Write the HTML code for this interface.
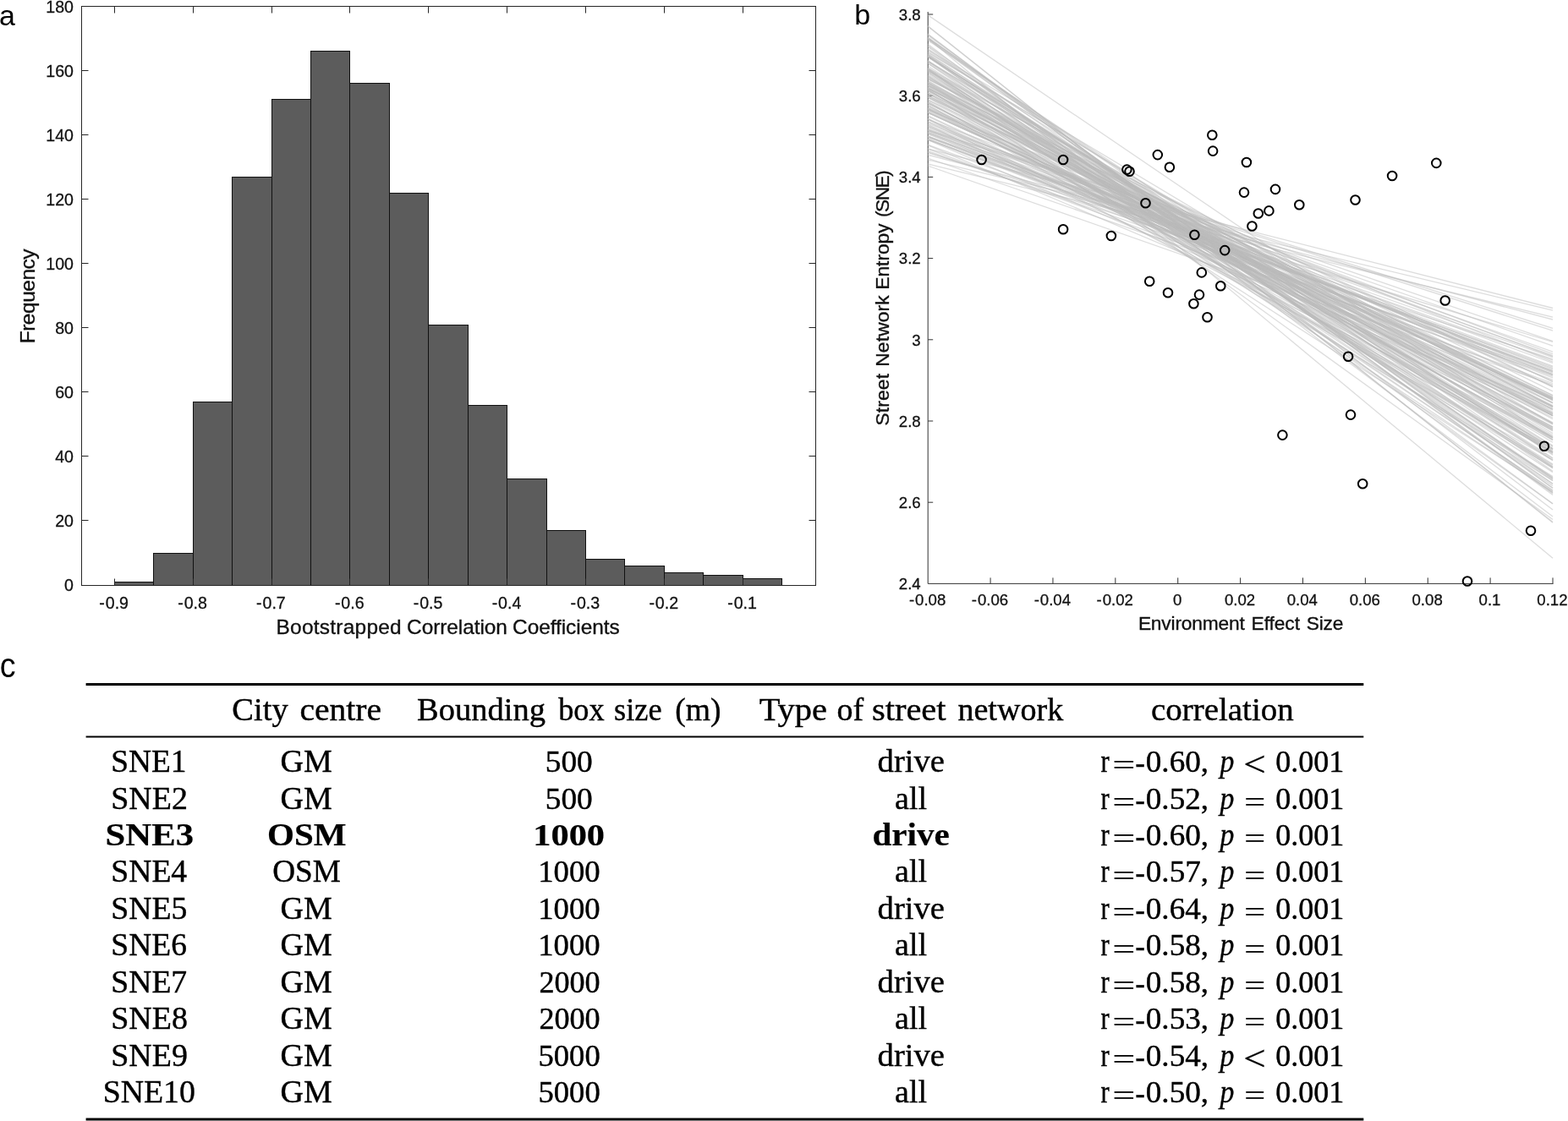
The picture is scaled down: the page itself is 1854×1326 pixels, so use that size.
<!DOCTYPE html>
<html lang="en"><head><meta charset="utf-8"><title>Figure: bootstrapped correlations between environment effect size and street network entropy</title>
<style>
html,body{margin:0;padding:0;background:#fff;}
#fig{position:relative;width:1854px;height:1326px;overflow:hidden;background:#fff;}
svg{display:block;position:absolute;left:0;top:0;}
text{font-family:"Liberation Sans", Arial, Helvetica, sans-serif;fill:#111;}
.tk{font-size:19.6px;}.tk text{stroke:#111;stroke-width:0.3px;}
.lb{font-size:24.45px;stroke:#111;stroke-width:0.35px;}
.pl{font-size:34px;fill:#000;}
.tb text{font-family:"Liberation Serif", "Times New Roman", serif;font-size:37.0px;fill:#000;stroke:#000;stroke-width:0.4px;}.tb .b{font-weight:bold;stroke-width:0.2px;}.tb .i{font-style:italic;}.tb .d{font-size:36px;}.tb .o{stroke-width:0.25px;}
</style></head><body>
<div id="fig"><svg width="1854" height="1326" viewBox="0 0 1854 1326">
<rect width="1854" height="1326" fill="#fff"/>
<g id="panel-a">
<text class="pl" x="-1.0" y="29.8">a</text>
<g fill="#5c5c5c" stroke="#111" stroke-width="1">
<rect x="135.5" y="688.5" width="46.0" height="4.0"/>
<rect x="181.5" y="654.5" width="47.0" height="38.0"/>
<rect x="228.5" y="475.5" width="46.0" height="217.0"/>
<rect x="274.5" y="209.5" width="47.0" height="483.0"/>
<rect x="321.5" y="117.5" width="46.0" height="575.0"/>
<rect x="367.5" y="60.5" width="46.0" height="632.0"/>
<rect x="413.5" y="98.5" width="47.0" height="594.0"/>
<rect x="460.5" y="228.5" width="46.0" height="464.0"/>
<rect x="506.5" y="384.5" width="47.0" height="308.0"/>
<rect x="553.5" y="479.5" width="46.0" height="213.0"/>
<rect x="599.5" y="566.5" width="47.0" height="126.0"/>
<rect x="646.5" y="627.5" width="46.0" height="65.0"/>
<rect x="692.5" y="661.5" width="46.0" height="31.0"/>
<rect x="738.5" y="669.5" width="47.0" height="23.0"/>
<rect x="785.5" y="677.5" width="46.0" height="15.0"/>
<rect x="831.5" y="680.5" width="47.0" height="12.0"/>
<rect x="878.5" y="684.5" width="46.0" height="8.0"/>
</g>
<g stroke="#262626" stroke-width="1" fill="none">
<rect x="96.5" y="7.5" width="868.00" height="685.00"/>
<path d="M135.5 692.5v-8.0M135.5 7.5v8.0M228.5 692.5v-8.0M228.5 7.5v8.0M321.5 692.5v-8.0M321.5 7.5v8.0M413.5 692.5v-8.0M413.5 7.5v8.0M506.5 692.5v-8.0M506.5 7.5v8.0M599.5 692.5v-8.0M599.5 7.5v8.0M692.5 692.5v-8.0M692.5 7.5v8.0M785.5 692.5v-8.0M785.5 7.5v8.0M878.5 692.5v-8.0M878.5 7.5v8.0M96.5 615.5h8.0M964.5 615.5h-8.0M96.5 539.5h8.0M964.5 539.5h-8.0M96.5 463.5h8.0M964.5 463.5h-8.0M96.5 387.5h8.0M964.5 387.5h-8.0M96.5 311.5h8.0M964.5 311.5h-8.0M96.5 235.5h8.0M964.5 235.5h-8.0M96.5 159.5h8.0M964.5 159.5h-8.0M96.5 83.5h8.0M964.5 83.5h-8.0"/>
</g>
<g class="tk" text-anchor="middle">
<text x="134.70" y="719.8">-<tspan dx="0.9">0.9</tspan></text>
<text x="227.56" y="719.8">-<tspan dx="0.9">0.8</tspan></text>
<text x="320.42" y="719.8">-<tspan dx="0.9">0.7</tspan></text>
<text x="413.28" y="719.8">-<tspan dx="0.9">0.6</tspan></text>
<text x="506.14" y="719.8">-<tspan dx="0.9">0.5</tspan></text>
<text x="599.00" y="719.8">-<tspan dx="0.9">0.4</tspan></text>
<text x="691.86" y="719.8">-<tspan dx="0.9">0.3</tspan></text>
<text x="784.72" y="719.8">-<tspan dx="0.9">0.2</tspan></text>
<text x="877.58" y="719.8">-<tspan dx="0.9">0.1</tspan></text>
</g>
<g class="tk" text-anchor="end">
<text x="87.0" y="699.10">0</text>
<text x="87.0" y="623.10">20</text>
<text x="87.0" y="547.10">40</text>
<text x="87.0" y="471.10">60</text>
<text x="87.0" y="395.10">80</text>
<text x="87.0" y="319.10">100</text>
<text x="87.0" y="243.10">120</text>
<text x="87.0" y="167.10">140</text>
<text x="87.0" y="91.10">160</text>
<text x="87.0" y="15.10">180</text>
</g>
<text class="lb" style="font-size:24.45px" y="749.6"><tspan x="326.50" letter-spacing="0.255">Bootstrapped</tspan> <tspan x="481.10" letter-spacing="-0.070">Correlation</tspan> <tspan x="606.10" letter-spacing="-0.064">Coefficients</tspan></text>
<text class="lb" style="font-size:24.45px" transform="translate(41.4 1000.0) rotate(-90)"><tspan x="593.70" letter-spacing="-0.450">Frequency</tspan></text>
</g>
<g id="panel-b">
<text class="pl" x="1010.3" y="28.5">b</text>
<g stroke="#333" stroke-width="1" fill="none">
<path d="M1097.2 14.0V690.4H1836.5M1171.08 690.4v-7.0M1244.96 690.4v-7.0M1318.84 690.4v-7.0M1392.72 690.4v-7.0M1466.60 690.4v-7.0M1540.48 690.4v-7.0M1614.36 690.4v-7.0M1688.24 690.4v-7.0M1762.12 690.4v-7.0M1836.00 690.4v-7.0M1097.2 594.20h6.0M1097.2 498.00h6.0M1097.2 401.80h6.0M1097.2 305.60h6.0M1097.2 209.40h6.0M1097.2 113.20h6.0M1097.2 17.00h6.0"/>
</g>
<g stroke="#bcbcbc" stroke-width="1.3" stroke-opacity="0.5" fill="none">
<line x1="1096.8" y1="90.2" x2="1836.0" y2="520.6"/>
<line x1="1096.8" y1="97.2" x2="1836.0" y2="535.1"/>
<line x1="1096.8" y1="129.6" x2="1836.0" y2="494.0"/>
<line x1="1096.8" y1="44.8" x2="1836.0" y2="552.3"/>
<line x1="1096.8" y1="85.5" x2="1836.0" y2="551.8"/>
<line x1="1096.8" y1="82.2" x2="1836.0" y2="516.5"/>
<line x1="1096.8" y1="67.1" x2="1836.0" y2="566.3"/>
<line x1="1096.8" y1="95.8" x2="1836.0" y2="527.5"/>
<line x1="1096.8" y1="71.8" x2="1836.0" y2="517.6"/>
<line x1="1096.8" y1="140.7" x2="1836.0" y2="530.9"/>
<line x1="1096.8" y1="104.2" x2="1836.0" y2="517.7"/>
<line x1="1096.8" y1="153.6" x2="1836.0" y2="388.4"/>
<line x1="1096.8" y1="87.2" x2="1836.0" y2="530.6"/>
<line x1="1096.8" y1="175.9" x2="1836.0" y2="453.5"/>
<line x1="1096.8" y1="171.6" x2="1836.0" y2="485.1"/>
<line x1="1096.8" y1="100.3" x2="1836.0" y2="451.7"/>
<line x1="1096.8" y1="66.6" x2="1836.0" y2="530.9"/>
<line x1="1096.8" y1="71.5" x2="1836.0" y2="574.6"/>
<line x1="1096.8" y1="79.8" x2="1836.0" y2="542.5"/>
<line x1="1096.8" y1="57.5" x2="1836.0" y2="572.4"/>
<line x1="1096.8" y1="95.3" x2="1836.0" y2="508.6"/>
<line x1="1096.8" y1="97.2" x2="1836.0" y2="480.7"/>
<line x1="1096.8" y1="156.3" x2="1836.0" y2="439.6"/>
<line x1="1096.8" y1="127.0" x2="1836.0" y2="451.0"/>
<line x1="1096.8" y1="104.4" x2="1836.0" y2="467.5"/>
<line x1="1096.8" y1="150.3" x2="1836.0" y2="409.2"/>
<line x1="1096.8" y1="164.9" x2="1836.0" y2="443.1"/>
<line x1="1096.8" y1="114.9" x2="1836.0" y2="476.1"/>
<line x1="1096.8" y1="66.9" x2="1836.0" y2="568.4"/>
<line x1="1096.8" y1="127.8" x2="1836.0" y2="479.7"/>
<line x1="1096.8" y1="165.1" x2="1836.0" y2="449.4"/>
<line x1="1096.8" y1="133.2" x2="1836.0" y2="471.6"/>
<line x1="1096.8" y1="154.4" x2="1836.0" y2="441.2"/>
<line x1="1096.8" y1="128.9" x2="1836.0" y2="471.2"/>
<line x1="1096.8" y1="113.0" x2="1836.0" y2="473.5"/>
<line x1="1096.8" y1="146.1" x2="1836.0" y2="421.7"/>
<line x1="1096.8" y1="106.9" x2="1836.0" y2="491.7"/>
<line x1="1096.8" y1="124.7" x2="1836.0" y2="491.3"/>
<line x1="1096.8" y1="157.2" x2="1836.0" y2="429.5"/>
<line x1="1096.8" y1="41.5" x2="1836.0" y2="584.1"/>
<line x1="1096.8" y1="121.8" x2="1836.0" y2="483.8"/>
<line x1="1096.8" y1="119.7" x2="1836.0" y2="531.6"/>
<line x1="1096.8" y1="109.3" x2="1836.0" y2="502.1"/>
<line x1="1096.8" y1="81.6" x2="1836.0" y2="614.5"/>
<line x1="1096.8" y1="103.4" x2="1836.0" y2="518.5"/>
<line x1="1096.8" y1="40.6" x2="1836.0" y2="585.4"/>
<line x1="1096.8" y1="107.6" x2="1836.0" y2="487.4"/>
<line x1="1096.8" y1="113.1" x2="1836.0" y2="516.5"/>
<line x1="1096.8" y1="65.2" x2="1836.0" y2="564.7"/>
<line x1="1096.8" y1="91.3" x2="1836.0" y2="533.5"/>
<line x1="1096.8" y1="83.7" x2="1836.0" y2="523.3"/>
<line x1="1096.8" y1="129.8" x2="1836.0" y2="428.2"/>
<line x1="1096.8" y1="74.8" x2="1836.0" y2="544.6"/>
<line x1="1096.8" y1="91.3" x2="1836.0" y2="482.0"/>
<line x1="1096.8" y1="101.2" x2="1836.0" y2="505.1"/>
<line x1="1096.8" y1="187.0" x2="1836.0" y2="444.0"/>
<line x1="1096.8" y1="154.5" x2="1836.0" y2="420.7"/>
<line x1="1096.8" y1="66.4" x2="1836.0" y2="536.0"/>
<line x1="1096.8" y1="61.3" x2="1836.0" y2="512.6"/>
<line x1="1096.8" y1="120.2" x2="1836.0" y2="535.2"/>
<line x1="1096.8" y1="46.4" x2="1836.0" y2="577.4"/>
<line x1="1096.8" y1="105.7" x2="1836.0" y2="550.1"/>
<line x1="1096.8" y1="104.8" x2="1836.0" y2="473.6"/>
<line x1="1096.8" y1="100.5" x2="1836.0" y2="491.7"/>
<line x1="1096.8" y1="171.1" x2="1836.0" y2="442.9"/>
<line x1="1096.8" y1="193.9" x2="1836.0" y2="375.2"/>
<line x1="1096.8" y1="80.6" x2="1836.0" y2="491.5"/>
<line x1="1096.8" y1="105.9" x2="1836.0" y2="553.1"/>
<line x1="1096.8" y1="180.5" x2="1836.0" y2="404.5"/>
<line x1="1096.8" y1="110.2" x2="1836.0" y2="467.9"/>
<line x1="1096.8" y1="83.2" x2="1836.0" y2="476.9"/>
<line x1="1096.8" y1="72.2" x2="1836.0" y2="532.0"/>
<line x1="1096.8" y1="131.2" x2="1836.0" y2="481.2"/>
<line x1="1096.8" y1="114.8" x2="1836.0" y2="469.9"/>
<line x1="1096.8" y1="53.9" x2="1836.0" y2="566.9"/>
<line x1="1096.8" y1="65.0" x2="1836.0" y2="565.6"/>
<line x1="1096.8" y1="136.7" x2="1836.0" y2="483.6"/>
<line x1="1096.8" y1="118.2" x2="1836.0" y2="506.8"/>
<line x1="1096.8" y1="128.3" x2="1836.0" y2="505.7"/>
<line x1="1096.8" y1="66.8" x2="1836.0" y2="527.2"/>
<line x1="1096.8" y1="141.5" x2="1836.0" y2="418.7"/>
<line x1="1096.8" y1="161.1" x2="1836.0" y2="456.4"/>
<line x1="1096.8" y1="123.9" x2="1836.0" y2="544.3"/>
<line x1="1096.8" y1="81.0" x2="1836.0" y2="572.3"/>
<line x1="1096.8" y1="110.0" x2="1836.0" y2="563.6"/>
<line x1="1096.8" y1="63.9" x2="1836.0" y2="544.2"/>
<line x1="1096.8" y1="132.8" x2="1836.0" y2="472.1"/>
<line x1="1096.8" y1="72.5" x2="1836.0" y2="514.7"/>
<line x1="1096.8" y1="149.4" x2="1836.0" y2="472.3"/>
<line x1="1096.8" y1="128.2" x2="1836.0" y2="476.8"/>
<line x1="1096.8" y1="104.0" x2="1836.0" y2="457.8"/>
<line x1="1096.8" y1="107.3" x2="1836.0" y2="499.7"/>
<line x1="1096.8" y1="55.0" x2="1836.0" y2="595.7"/>
<line x1="1096.8" y1="164.2" x2="1836.0" y2="445.2"/>
<line x1="1096.8" y1="158.5" x2="1836.0" y2="438.6"/>
<line x1="1096.8" y1="179.8" x2="1836.0" y2="424.8"/>
<line x1="1096.8" y1="152.9" x2="1836.0" y2="440.0"/>
<line x1="1096.8" y1="188.9" x2="1836.0" y2="367.1"/>
<line x1="1096.8" y1="152.2" x2="1836.0" y2="416.1"/>
<line x1="1096.8" y1="74.7" x2="1836.0" y2="580.5"/>
<line x1="1096.8" y1="98.8" x2="1836.0" y2="520.4"/>
<line x1="1096.8" y1="140.1" x2="1836.0" y2="484.2"/>
<line x1="1096.8" y1="160.9" x2="1836.0" y2="433.0"/>
<line x1="1096.8" y1="101.6" x2="1836.0" y2="500.9"/>
<line x1="1096.8" y1="88.9" x2="1836.0" y2="509.9"/>
<line x1="1096.8" y1="44.9" x2="1836.0" y2="557.4"/>
<line x1="1096.8" y1="89.3" x2="1836.0" y2="582.6"/>
<line x1="1096.8" y1="98.1" x2="1836.0" y2="472.8"/>
<line x1="1096.8" y1="85.5" x2="1836.0" y2="549.1"/>
<line x1="1096.8" y1="122.1" x2="1836.0" y2="490.0"/>
<line x1="1096.8" y1="125.7" x2="1836.0" y2="509.1"/>
<line x1="1096.8" y1="92.9" x2="1836.0" y2="480.6"/>
<line x1="1096.8" y1="101.5" x2="1836.0" y2="462.9"/>
<line x1="1096.8" y1="45.1" x2="1836.0" y2="582.7"/>
<line x1="1096.8" y1="144.2" x2="1836.0" y2="491.9"/>
<line x1="1096.8" y1="147.1" x2="1836.0" y2="517.4"/>
<line x1="1096.8" y1="99.7" x2="1836.0" y2="535.7"/>
<line x1="1096.8" y1="105.0" x2="1836.0" y2="581.6"/>
<line x1="1096.8" y1="164.7" x2="1836.0" y2="434.1"/>
<line x1="1096.8" y1="97.9" x2="1836.0" y2="568.6"/>
<line x1="1096.8" y1="162.4" x2="1836.0" y2="426.2"/>
<line x1="1096.8" y1="137.5" x2="1836.0" y2="489.3"/>
<line x1="1096.8" y1="77.8" x2="1836.0" y2="558.6"/>
<line x1="1096.8" y1="156.1" x2="1836.0" y2="436.9"/>
<line x1="1096.8" y1="117.8" x2="1836.0" y2="470.5"/>
<line x1="1096.8" y1="73.2" x2="1836.0" y2="553.2"/>
<line x1="1096.8" y1="157.9" x2="1836.0" y2="446.9"/>
<line x1="1096.8" y1="162.1" x2="1836.0" y2="435.6"/>
<line x1="1096.8" y1="59.5" x2="1836.0" y2="534.9"/>
<line x1="1096.8" y1="165.5" x2="1836.0" y2="481.2"/>
<line x1="1096.8" y1="43.9" x2="1836.0" y2="577.2"/>
<line x1="1096.8" y1="84.3" x2="1836.0" y2="534.1"/>
<line x1="1096.8" y1="112.7" x2="1836.0" y2="488.7"/>
<line x1="1096.8" y1="30.4" x2="1836.0" y2="618.2"/>
<line x1="1096.8" y1="93.7" x2="1836.0" y2="457.5"/>
<line x1="1096.8" y1="161.2" x2="1836.0" y2="422.7"/>
<line x1="1096.8" y1="93.0" x2="1836.0" y2="489.2"/>
<line x1="1096.8" y1="132.3" x2="1836.0" y2="471.2"/>
<line x1="1096.8" y1="103.1" x2="1836.0" y2="495.6"/>
<line x1="1096.8" y1="63.8" x2="1836.0" y2="537.3"/>
<line x1="1096.8" y1="148.6" x2="1836.0" y2="403.7"/>
<line x1="1096.8" y1="47.5" x2="1836.0" y2="538.3"/>
<line x1="1096.8" y1="110.4" x2="1836.0" y2="500.6"/>
<line x1="1096.8" y1="143.7" x2="1836.0" y2="443.0"/>
<line x1="1096.8" y1="121.7" x2="1836.0" y2="504.8"/>
<line x1="1096.8" y1="62.1" x2="1836.0" y2="508.0"/>
<line x1="1096.8" y1="58.5" x2="1836.0" y2="501.4"/>
<line x1="1096.8" y1="82.9" x2="1836.0" y2="553.9"/>
<line x1="1096.8" y1="140.5" x2="1836.0" y2="507.1"/>
<line x1="1096.8" y1="66.5" x2="1836.0" y2="541.8"/>
<line x1="1096.8" y1="133.2" x2="1836.0" y2="469.3"/>
<line x1="1096.8" y1="81.1" x2="1836.0" y2="579.7"/>
<line x1="1096.8" y1="115.2" x2="1836.0" y2="528.7"/>
<line x1="1096.8" y1="178.4" x2="1836.0" y2="438.5"/>
<line x1="1096.8" y1="154.5" x2="1836.0" y2="391.2"/>
<line x1="1096.8" y1="45.0" x2="1836.0" y2="660.3"/>
<line x1="1096.8" y1="17.6" x2="1836.0" y2="520.0"/>
<line x1="1096.8" y1="196.0" x2="1836.0" y2="455.0"/>
<line x1="1096.8" y1="31.0" x2="1836.0" y2="617.5"/>
<line x1="1096.8" y1="52.0" x2="1836.0" y2="611.0"/>
<line x1="1096.8" y1="40.0" x2="1836.0" y2="603.0"/>
<line x1="1096.8" y1="66.0" x2="1836.0" y2="596.0"/>
<line x1="1096.8" y1="176.0" x2="1836.0" y2="364.5"/>
<line x1="1096.8" y1="183.0" x2="1836.0" y2="378.0"/>
</g>
<g stroke="#000" stroke-width="2" fill="none">
<circle cx="1160.6" cy="189.0" r="5.3"/>
<circle cx="1257.1" cy="189.0" r="5.3"/>
<circle cx="1332.4" cy="200.6" r="5.3"/>
<circle cx="1335.5" cy="202.7" r="5.3"/>
<circle cx="1368.8" cy="183.1" r="5.3"/>
<circle cx="1382.9" cy="197.8" r="5.3"/>
<circle cx="1354.5" cy="240.2" r="5.3"/>
<circle cx="1257.1" cy="271.2" r="5.3"/>
<circle cx="1313.9" cy="279.0" r="5.3"/>
<circle cx="1359.2" cy="332.7" r="5.3"/>
<circle cx="1381.0" cy="346.3" r="5.3"/>
<circle cx="1433.3" cy="159.8" r="5.3"/>
<circle cx="1434.1" cy="178.6" r="5.3"/>
<circle cx="1473.9" cy="192.0" r="5.3"/>
<circle cx="1646.1" cy="208.0" r="5.3"/>
<circle cx="1471.0" cy="227.6" r="5.3"/>
<circle cx="1508.0" cy="223.9" r="5.3"/>
<circle cx="1602.5" cy="236.5" r="5.3"/>
<circle cx="1536.3" cy="242.2" r="5.3"/>
<circle cx="1500.4" cy="249.4" r="5.3"/>
<circle cx="1487.8" cy="252.5" r="5.3"/>
<circle cx="1480.4" cy="267.5" r="5.3"/>
<circle cx="1412.4" cy="277.8" r="5.3"/>
<circle cx="1448.2" cy="296.1" r="5.3"/>
<circle cx="1420.8" cy="322.4" r="5.3"/>
<circle cx="1443.3" cy="338.2" r="5.3"/>
<circle cx="1418.0" cy="348.6" r="5.3"/>
<circle cx="1411.4" cy="359.2" r="5.3"/>
<circle cx="1427.5" cy="375.3" r="5.3"/>
<circle cx="1698.3" cy="192.9" r="5.3"/>
<circle cx="1708.7" cy="355.5" r="5.3"/>
<circle cx="1594.1" cy="421.8" r="5.3"/>
<circle cx="1597.0" cy="490.6" r="5.3"/>
<circle cx="1516.4" cy="514.6" r="5.3"/>
<circle cx="1611.2" cy="572.2" r="5.3"/>
<circle cx="1825.9" cy="527.8" r="5.3"/>
<circle cx="1810.0" cy="627.7" r="5.3"/>
<circle cx="1735.0" cy="687.5" r="5.3"/>
</g>
<g class="tk" text-anchor="middle" style="font-size:18.6px">
<text x="1096.60" y="716.3">-<tspan dx="0.9">0.08</tspan></text>
<text x="1170.48" y="716.3">-<tspan dx="0.9">0.06</tspan></text>
<text x="1244.36" y="716.3">-<tspan dx="0.9">0.04</tspan></text>
<text x="1318.24" y="716.3">-<tspan dx="0.9">0.02</tspan></text>
<text x="1392.12" y="716.3">0</text>
<text x="1466.00" y="716.3">0.02</text>
<text x="1539.88" y="716.3">0.04</text>
<text x="1613.76" y="716.3">0.06</text>
<text x="1687.64" y="716.3">0.08</text>
<text x="1761.52" y="716.3">0.1</text>
<text x="1835.40" y="716.3">0.12</text>
</g>
<g class="tk" text-anchor="end" style="font-size:18.6px">
<text x="1088.7" y="697.20">2.4</text>
<text x="1088.7" y="601.00">2.6</text>
<text x="1088.7" y="504.80">2.8</text>
<text x="1088.7" y="408.60">3</text>
<text x="1088.7" y="312.40">3.2</text>
<text x="1088.7" y="216.20">3.4</text>
<text x="1088.7" y="120.00">3.6</text>
<text x="1088.7" y="23.80">3.8</text>
</g>
<text class="lb" style="font-size:22.75px" y="744.8"><tspan x="1345.90" letter-spacing="-0.190">Environment</tspan> <tspan x="1479.60" letter-spacing="-0.080">Effect</tspan> <tspan x="1544.70" letter-spacing="-0.167">Size</tspan></text>
<text class="lb" style="font-size:22.75px" transform="translate(1051.3 1000.0) rotate(-90)"><tspan x="496.40" letter-spacing="0.180">Street</tspan> <tspan x="566.20" letter-spacing="0.183">Network</tspan> <tspan x="657.30" letter-spacing="-0.017">Entropy</tspan> <tspan x="743.10" letter-spacing="-1.600">(SNE)</tspan></text>
</g>
<g id="panel-c">
<text class="pl" style="font-size:40px" transform="translate(-0.2 800.6) scale(0.94 1)">c</text>
<g stroke="#000" fill="none">
<path stroke-width="3" d="M101.6 809.4H1612.3M101.6 1324H1612.3"/>
<path stroke-width="2" d="M101.6 871.5H1612.3"/>
</g>
<g class="tb">
<g class="head">
<text><tspan x="274.36" y="852.00" textLength="66.28" lengthAdjust="spacingAndGlyphs">City</tspan> <tspan x="354.43" y="852.00" textLength="96.57" lengthAdjust="spacingAndGlyphs">centre</tspan></text>
<text><tspan x="492.96" y="852.00" textLength="152.01" lengthAdjust="spacingAndGlyphs">Bounding</tspan> <tspan x="660.20" y="852.00" textLength="54.39" lengthAdjust="spacingAndGlyphs">box</tspan> <tspan x="726.02" y="852.00" textLength="56.50" lengthAdjust="spacingAndGlyphs">size</tspan> <tspan x="798.28" y="852.00" textLength="54.28" lengthAdjust="spacingAndGlyphs">(m)</tspan></text>
<text><tspan x="897.70" y="852.00" textLength="80.30" lengthAdjust="spacingAndGlyphs">Type</tspan> <tspan x="989.47" y="852.00" textLength="31.65" lengthAdjust="spacingAndGlyphs">of</tspan> <tspan x="1031.01" y="852.00" textLength="87.53" lengthAdjust="spacingAndGlyphs">street</tspan> <tspan x="1132.40" y="852.00" textLength="124.83" lengthAdjust="spacingAndGlyphs">network</tspan></text>
<text><tspan x="1360.95" y="852.00" textLength="168.72" lengthAdjust="spacingAndGlyphs">correlation</tspan></text>
</g>
<g class="row">
<text transform="translate(131.28 913.10) scale(1.0094 1)">SNE1</text>
<text transform="translate(331.57 913.10) scale(1.0276 1)">GM</text>
<text class="d" transform="translate(644.73 913.10) scale(1.0373 1)">500</text>
<text transform="translate(1037.56 913.10) scale(1.0446 1)">drive</text>
<text><tspan x="1301.50" y="913.10" textLength="10.17" lengthAdjust="spacingAndGlyphs">r</tspan><tspan class="o" style="font-size:34.0px" x="1315.61" y="916.30" textLength="26.75" lengthAdjust="spacingAndGlyphs">=</tspan><tspan class="o" x="1342.35" y="915.10" textLength="11.71" lengthAdjust="spacingAndGlyphs">-</tspan><tspan class="d" x="1354.77" y="913.10" textLength="74.30" lengthAdjust="spacingAndGlyphs">0.60,</tspan> <tspan class="i" x="1442.42" y="913.10" textLength="16.84" lengthAdjust="spacingAndGlyphs">p</tspan> <tspan class="o" style="font-size:42.5px" x="1470.29" y="918.40" textLength="26.49" lengthAdjust="spacingAndGlyphs">&lt;</tspan> <tspan class="d" x="1508.20" y="913.10" textLength="81.00" lengthAdjust="spacingAndGlyphs">0.001</tspan></text>
</g>
<g class="row">
<text transform="translate(131.25 956.55) scale(1.0259 1)">SNE2</text>
<text transform="translate(331.57 956.55) scale(1.0276 1)">GM</text>
<text class="d" transform="translate(644.73 956.55) scale(1.0373 1)">500</text>
<text transform="translate(1058.07 956.55) scale(1.0250 1)">all</text>
<text><tspan x="1301.50" y="956.55" textLength="10.17" lengthAdjust="spacingAndGlyphs">r</tspan><tspan class="o" style="font-size:34.0px" x="1315.61" y="959.75" textLength="26.75" lengthAdjust="spacingAndGlyphs">=</tspan><tspan class="o" x="1342.35" y="958.55" textLength="11.71" lengthAdjust="spacingAndGlyphs">-</tspan><tspan class="d" x="1354.77" y="956.55" textLength="74.30" lengthAdjust="spacingAndGlyphs">0.52,</tspan> <tspan class="i" x="1442.42" y="956.55" textLength="16.84" lengthAdjust="spacingAndGlyphs">p</tspan> <tspan class="o" style="font-size:34.0px" x="1471.20" y="959.75" textLength="24.94" lengthAdjust="spacingAndGlyphs">=</tspan> <tspan class="d" x="1508.20" y="956.55" textLength="81.00" lengthAdjust="spacingAndGlyphs">0.001</tspan></text>
</g>
<g class="row">
<text class="b" transform="translate(124.59 1000.00) scale(1.1552 1)">SNE3</text>
<text class="b" transform="translate(315.99 1000.00) scale(1.1110 1)">OSM</text>
<text class="b d" transform="translate(630.27 1000.00) scale(1.1779 1)">1000</text>
<text class="b" transform="translate(1031.39 1000.00) scale(1.1123 1)">drive</text>
<text><tspan x="1301.50" y="1000.00" textLength="10.17" lengthAdjust="spacingAndGlyphs">r</tspan><tspan class="o" style="font-size:34.0px" x="1315.61" y="1003.20" textLength="26.75" lengthAdjust="spacingAndGlyphs">=</tspan><tspan class="o" x="1342.35" y="1002.00" textLength="11.71" lengthAdjust="spacingAndGlyphs">-</tspan><tspan class="d" x="1354.77" y="1000.00" textLength="74.30" lengthAdjust="spacingAndGlyphs">0.60,</tspan> <tspan class="i" x="1442.42" y="1000.00" textLength="16.84" lengthAdjust="spacingAndGlyphs">p</tspan> <tspan class="o" style="font-size:34.0px" x="1471.20" y="1003.20" textLength="24.94" lengthAdjust="spacingAndGlyphs">=</tspan> <tspan class="d" x="1508.20" y="1000.00" textLength="81.00" lengthAdjust="spacingAndGlyphs">0.001</tspan></text>
</g>
<g class="row">
<text transform="translate(131.27 1043.45) scale(1.0174 1)">SNE4</text>
<text transform="translate(322.19 1043.45) scale(1.0064 1)">OSM</text>
<text class="d" transform="translate(636.24 1043.45) scale(1.0206 1)">1000</text>
<text transform="translate(1058.07 1043.45) scale(1.0250 1)">all</text>
<text><tspan x="1301.50" y="1043.45" textLength="10.17" lengthAdjust="spacingAndGlyphs">r</tspan><tspan class="o" style="font-size:34.0px" x="1315.61" y="1046.65" textLength="26.75" lengthAdjust="spacingAndGlyphs">=</tspan><tspan class="o" x="1342.35" y="1045.45" textLength="11.71" lengthAdjust="spacingAndGlyphs">-</tspan><tspan class="d" x="1354.77" y="1043.45" textLength="74.30" lengthAdjust="spacingAndGlyphs">0.57,</tspan> <tspan class="i" x="1442.42" y="1043.45" textLength="16.84" lengthAdjust="spacingAndGlyphs">p</tspan> <tspan class="o" style="font-size:34.0px" x="1471.20" y="1046.65" textLength="24.94" lengthAdjust="spacingAndGlyphs">=</tspan> <tspan class="d" x="1508.20" y="1043.45" textLength="81.00" lengthAdjust="spacingAndGlyphs">0.001</tspan></text>
</g>
<g class="row">
<text transform="translate(131.26 1086.90) scale(1.0212 1)">SNE5</text>
<text transform="translate(331.57 1086.90) scale(1.0276 1)">GM</text>
<text class="d" transform="translate(636.24 1086.90) scale(1.0206 1)">1000</text>
<text transform="translate(1037.56 1086.90) scale(1.0446 1)">drive</text>
<text><tspan x="1301.50" y="1086.90" textLength="10.17" lengthAdjust="spacingAndGlyphs">r</tspan><tspan class="o" style="font-size:34.0px" x="1315.61" y="1090.10" textLength="26.75" lengthAdjust="spacingAndGlyphs">=</tspan><tspan class="o" x="1342.35" y="1088.90" textLength="11.71" lengthAdjust="spacingAndGlyphs">-</tspan><tspan class="d" x="1354.77" y="1086.90" textLength="74.30" lengthAdjust="spacingAndGlyphs">0.64,</tspan> <tspan class="i" x="1442.42" y="1086.90" textLength="16.84" lengthAdjust="spacingAndGlyphs">p</tspan> <tspan class="o" style="font-size:34.0px" x="1471.20" y="1090.10" textLength="24.94" lengthAdjust="spacingAndGlyphs">=</tspan> <tspan class="d" x="1508.20" y="1086.90" textLength="81.00" lengthAdjust="spacingAndGlyphs">0.001</tspan></text>
</g>
<g class="row">
<text transform="translate(131.27 1130.35) scale(1.0140 1)">SNE6</text>
<text transform="translate(331.57 1130.35) scale(1.0276 1)">GM</text>
<text class="d" transform="translate(636.24 1130.35) scale(1.0206 1)">1000</text>
<text transform="translate(1058.07 1130.35) scale(1.0250 1)">all</text>
<text><tspan x="1301.50" y="1130.35" textLength="10.17" lengthAdjust="spacingAndGlyphs">r</tspan><tspan class="o" style="font-size:34.0px" x="1315.61" y="1133.55" textLength="26.75" lengthAdjust="spacingAndGlyphs">=</tspan><tspan class="o" x="1342.35" y="1132.35" textLength="11.71" lengthAdjust="spacingAndGlyphs">-</tspan><tspan class="d" x="1354.77" y="1130.35" textLength="74.30" lengthAdjust="spacingAndGlyphs">0.58,</tspan> <tspan class="i" x="1442.42" y="1130.35" textLength="16.84" lengthAdjust="spacingAndGlyphs">p</tspan> <tspan class="o" style="font-size:34.0px" x="1471.20" y="1133.55" textLength="24.94" lengthAdjust="spacingAndGlyphs">=</tspan> <tspan class="d" x="1508.20" y="1130.35" textLength="81.00" lengthAdjust="spacingAndGlyphs">0.001</tspan></text>
</g>
<g class="row">
<text transform="translate(131.27 1173.80) scale(1.0174 1)">SNE7</text>
<text transform="translate(331.57 1173.80) scale(1.0276 1)">GM</text>
<text class="d" transform="translate(637.40 1173.80) scale(1.0043 1)">2000</text>
<text transform="translate(1037.56 1173.80) scale(1.0446 1)">drive</text>
<text><tspan x="1301.50" y="1173.80" textLength="10.17" lengthAdjust="spacingAndGlyphs">r</tspan><tspan class="o" style="font-size:34.0px" x="1315.61" y="1177.00" textLength="26.75" lengthAdjust="spacingAndGlyphs">=</tspan><tspan class="o" x="1342.35" y="1175.80" textLength="11.71" lengthAdjust="spacingAndGlyphs">-</tspan><tspan class="d" x="1354.77" y="1173.80" textLength="74.30" lengthAdjust="spacingAndGlyphs">0.58,</tspan> <tspan class="i" x="1442.42" y="1173.80" textLength="16.84" lengthAdjust="spacingAndGlyphs">p</tspan> <tspan class="o" style="font-size:34.0px" x="1471.20" y="1177.00" textLength="24.94" lengthAdjust="spacingAndGlyphs">=</tspan> <tspan class="d" x="1508.20" y="1173.80" textLength="81.00" lengthAdjust="spacingAndGlyphs">0.001</tspan></text>
</g>
<g class="row">
<text transform="translate(131.25 1217.25) scale(1.0259 1)">SNE8</text>
<text transform="translate(331.57 1217.25) scale(1.0276 1)">GM</text>
<text class="d" transform="translate(637.40 1217.25) scale(1.0043 1)">2000</text>
<text transform="translate(1058.07 1217.25) scale(1.0250 1)">all</text>
<text><tspan x="1301.50" y="1217.25" textLength="10.17" lengthAdjust="spacingAndGlyphs">r</tspan><tspan class="o" style="font-size:34.0px" x="1315.61" y="1220.45" textLength="26.75" lengthAdjust="spacingAndGlyphs">=</tspan><tspan class="o" x="1342.35" y="1219.25" textLength="11.71" lengthAdjust="spacingAndGlyphs">-</tspan><tspan class="d" x="1354.77" y="1217.25" textLength="74.30" lengthAdjust="spacingAndGlyphs">0.53,</tspan> <tspan class="i" x="1442.42" y="1217.25" textLength="16.84" lengthAdjust="spacingAndGlyphs">p</tspan> <tspan class="o" style="font-size:34.0px" x="1471.20" y="1220.45" textLength="24.94" lengthAdjust="spacingAndGlyphs">=</tspan> <tspan class="d" x="1508.20" y="1217.25" textLength="81.00" lengthAdjust="spacingAndGlyphs">0.001</tspan></text>
</g>
<g class="row">
<text transform="translate(131.25 1260.70) scale(1.0259 1)">SNE9</text>
<text transform="translate(331.57 1260.70) scale(1.0276 1)">GM</text>
<text class="d" transform="translate(636.57 1260.70) scale(1.0159 1)">5000</text>
<text transform="translate(1037.56 1260.70) scale(1.0446 1)">drive</text>
<text><tspan x="1301.50" y="1260.70" textLength="10.17" lengthAdjust="spacingAndGlyphs">r</tspan><tspan class="o" style="font-size:34.0px" x="1315.61" y="1263.90" textLength="26.75" lengthAdjust="spacingAndGlyphs">=</tspan><tspan class="o" x="1342.35" y="1262.70" textLength="11.71" lengthAdjust="spacingAndGlyphs">-</tspan><tspan class="d" x="1354.77" y="1260.70" textLength="74.30" lengthAdjust="spacingAndGlyphs">0.54,</tspan> <tspan class="i" x="1442.42" y="1260.70" textLength="16.84" lengthAdjust="spacingAndGlyphs">p</tspan> <tspan class="o" style="font-size:42.5px" x="1470.29" y="1266.00" textLength="26.49" lengthAdjust="spacingAndGlyphs">&lt;</tspan> <tspan class="d" x="1508.20" y="1260.70" textLength="81.00" lengthAdjust="spacingAndGlyphs">0.001</tspan></text>
</g>
<g class="row">
<text transform="translate(121.65 1304.15) scale(1.0231 1)">SNE10</text>
<text transform="translate(331.57 1304.15) scale(1.0276 1)">GM</text>
<text class="d" transform="translate(636.57 1304.15) scale(1.0159 1)">5000</text>
<text transform="translate(1058.07 1304.15) scale(1.0250 1)">all</text>
<text><tspan x="1301.50" y="1304.15" textLength="10.17" lengthAdjust="spacingAndGlyphs">r</tspan><tspan class="o" style="font-size:34.0px" x="1315.61" y="1307.35" textLength="26.75" lengthAdjust="spacingAndGlyphs">=</tspan><tspan class="o" x="1342.35" y="1306.15" textLength="11.71" lengthAdjust="spacingAndGlyphs">-</tspan><tspan class="d" x="1354.77" y="1304.15" textLength="74.30" lengthAdjust="spacingAndGlyphs">0.50,</tspan> <tspan class="i" x="1442.42" y="1304.15" textLength="16.84" lengthAdjust="spacingAndGlyphs">p</tspan> <tspan class="o" style="font-size:34.0px" x="1471.20" y="1307.35" textLength="24.94" lengthAdjust="spacingAndGlyphs">=</tspan> <tspan class="d" x="1508.20" y="1304.15" textLength="81.00" lengthAdjust="spacingAndGlyphs">0.001</tspan></text>
</g>
</g>
</g>
</svg></div></body></html>
